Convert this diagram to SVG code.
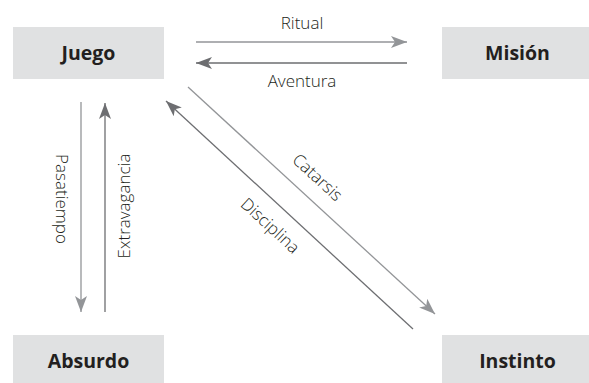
<svg xmlns="http://www.w3.org/2000/svg" width="589" height="383" viewBox="0 0 589 383">
<defs>
<style>
.box{fill:#e0e1e2}
.nl{font-family:"Open Sans","Liberation Sans",sans-serif;font-weight:700;font-size:19.5px;fill:#231f20;text-anchor:middle}
.el{font-family:"Open Sans","Liberation Sans",sans-serif;font-weight:300;font-size:17px;fill:#231f20;text-anchor:middle}
.lt{stroke:#939598;stroke-width:1.3;fill:none}
.dk{stroke:#6d6e71;stroke-width:1.3;fill:none}
</style>
<marker id="al" markerUnits="userSpaceOnUse" markerWidth="16" markerHeight="12" refX="16" refY="6" orient="auto"><path d="M0,0 L16,6 L0,12 L4,6 Z" fill="#939598"/></marker>
<marker id="ad" markerUnits="userSpaceOnUse" markerWidth="16" markerHeight="12" refX="16" refY="6" orient="auto"><path d="M0,0 L16,6 L0,12 L4,6 Z" fill="#6d6e71"/></marker>
</defs>
<g id="juego"><rect class="box" x="13" y="27" width="151" height="52"/><text class="nl" x="88.5" y="60">Juego</text></g>
<g id="mision"><rect class="box" x="442" y="27" width="151" height="52"/><text class="nl" x="517.5" y="60">Misión</text></g>
<g id="absurdo"><rect class="box" x="13" y="335" width="151" height="52"/><text class="nl" x="88.5" y="368">Absurdo</text></g>
<g id="instinto"><rect class="box" x="442" y="335" width="151" height="52"/><text class="nl" x="517.5" y="368">Instinto</text></g>
<g id="connectors">
<line class="lt" x1="196" y1="42" x2="407" y2="42" marker-end="url(#al)"/>
<line class="dk" x1="407" y1="63" x2="196" y2="63" marker-end="url(#ad)"/>
<line class="lt" x1="81" y1="102" x2="81" y2="312" marker-end="url(#al)"/>
<line class="dk" x1="105" y1="312" x2="105" y2="103" marker-end="url(#ad)"/>
<line class="lt" x1="188" y1="87" x2="435" y2="314" marker-end="url(#al)"/>
<line class="dk" x1="413" y1="329" x2="166" y2="101" marker-end="url(#ad)"/>
<text class="el" x="302" y="29">Ritual</text>
<text class="el" x="302" y="87">Aventura</text>
<text class="el" transform="translate(55.5,199) rotate(90)">Pasatiempo</text>
<text class="el" transform="translate(130,206) rotate(-90)">Extravagancia</text>
<text class="el" transform="translate(317,178) rotate(42.6)" y="5">Catarsis</text>
<text class="el" transform="translate(269,227) rotate(42.6)" y="4">Disciplina</text>
</g>
</svg>
